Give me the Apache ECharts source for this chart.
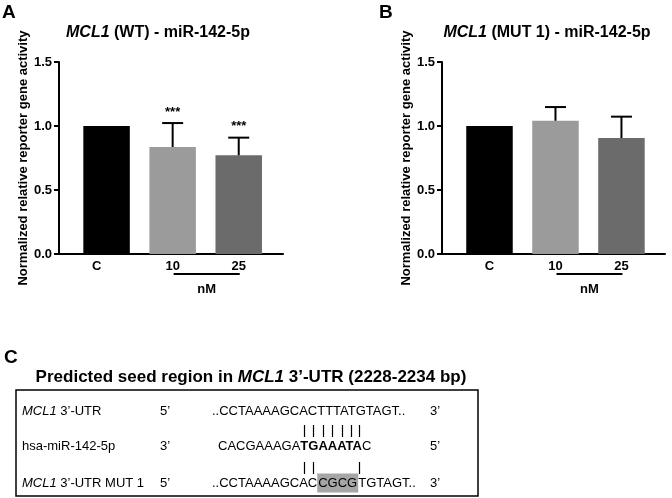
<!DOCTYPE html>
<html><head><meta charset="utf-8">
<script src="https://cdn.jsdelivr.net/npm/echarts@6/dist/echarts.min.js"></script>
<style>html,body{margin:0;padding:0;background:#fff}#c{width:672px;height:498px}</style>
</head><body><div id="c"></div>
<script>
// ---------- data ----------
const categories = ['C', '10', '25'];
const wtMeans = [1.0, 0.836, 0.771];
const wtErrors = [0, 0.187, 0.138];
const wtSig = ['', '***', '***'];
const mutMeans = [1.0, 1.041, 0.906];
const mutErrors = [0, 0.107, 0.167];
const mutSig = ['', '', ''];
const yTickValues = [0, 0.5, 1.0, 1.5];
const unitLabel = 'nM';
const yAxisTitle = 'Normalized relative reporter gene activity';
const titleA = ['MCL1', ' (WT) - miR-142-5p'];
const titleB = ['MCL1', ' (MUT 1) - miR-142-5p'];
const panelCTitle = ['Predicted seed region in ', 'MCL1', ' 3\u2019-UTR (2228-2234 bp)'];
const rowNames = [['MCL1', ' 3\u2019-UTR'], ['', 'hsa-miR-142-5p'], ['MCL1', ' 3\u2019-UTR MUT 1']];
const leftEnds = ['5\u2019', '3\u2019', '5\u2019'];
const rightEnds = ['3\u2019', '5\u2019', '3\u2019'];
const utrSeq = '..CCTAAAAGCACTTTATGTAGT..';
const mirPrefix = 'CACGAAAGA', mirSeed = 'TGAAATA', mirSuffix = 'C';
const mutPrefix = '..CCTAAAAGCAC', mutSite = 'CGCG', mutSuffix = 'TGTAGT..';
const pairsTop = [9, 10, 11, 12, 13, 14, 15];   // indices in miR string paired with WT UTR
const pairsMut = [9, 10, 15];                   // indices paired with MUT 1 UTR

// ---------- style ----------
const FONT = "'Liberation Sans', Arial, Helvetica, sans-serif";
const barColors = ['#000000', '#9b9b9b', '#6b6b6b'];

const chart = echarts.init(document.getElementById('c'), null, {renderer: 'canvas'});

function tok(size, weight, style, extra) {
  return Object.assign({fontSize: size, fontWeight: weight, fontStyle: style || 'normal', fontFamily: FONT, color: '#000'}, extra || {});
}

function panel(idx, left, width, minX, maxX, means, errors, sig, cShift) {
  const grid = {left: left, top: 62, width: width, height: 192, containLabel: false, outerBoundsMode: 'none'};
  const xAxis = {
    gridIndex: idx, type: 'value', min: minX, max: maxX,
    axisLine: {show: true, onZero: false, lineStyle: {color: '#000', width: 2}},
    axisTick: {show: false}, splitLine: {show: false},
    axisLabel: {
      customValues: [0, 1, 2], margin: 6, color: '#000',
      fontSize: 13, fontWeight: 'bold', fontFamily: FONT,
      formatter: v => {
        const i = Math.round(v);
        return (i === 0 && cShift) ? '{s|' + categories[i] + '}' : '{n|' + categories[i] + '}';
      },
      rich: {
        n: tok(13, 'bold'),
        s: tok(13, 'bold', 'normal', {padding: [0, cShift || 0, 0, 0]})
      }
    }
  };
  const yAxis = {
    gridIndex: idx, type: 'value', min: yTickValues[0], max: yTickValues[yTickValues.length - 1],
    interval: yTickValues[1] - yTickValues[0],
    name: yAxisTitle, nameLocation: 'middle', nameRotate: 90, nameGap: 29,
    nameTextStyle: {fontSize: 13, fontWeight: 'bold', fontFamily: FONT, color: '#000'},
    axisLine: {show: true, onZero: false, lineStyle: {color: '#000', width: 2}},
    axisTick: {show: true, length: 5, lineStyle: {color: '#000', width: 2}},
    splitLine: {show: false},
    axisLabel: {formatter: v => v.toFixed(1), fontSize: 13, fontWeight: 'bold', fontFamily: FONT, color: '#000', margin: 7}
  };
  const bars = {
    type: 'bar', xAxisIndex: idx, yAxisIndex: idx, barWidth: 46.5, z: 2,
    data: means.map((m, i) => ({value: [i, m], itemStyle: {color: barColors[i]}}))
  };
  const errData = [];
  means.forEach((m, i) => { if (errors[i] > 0) errData.push([i, m, errors[i]]); });
  const err = {
    type: 'custom', xAxisIndex: idx, yAxisIndex: idx, z: 5, clip: false,
    encode: {x: 0, y: 1},
    data: errData,
    renderItem: (params, api) => {
      const x = api.value(0), m = api.value(1), e = api.value(2);
      const p0 = api.coord([x, m]), p1 = api.coord([x, m + e]);
      const children = [
        {type: 'line', shape: {x1: p0[0], y1: p0[1], x2: p1[0], y2: p1[1]}, style: {stroke: '#000', lineWidth: 2}},
        {type: 'line', shape: {x1: p1[0] - 10.5, y1: p1[1], x2: p1[0] + 10.5, y2: p1[1]}, style: {stroke: '#000', lineWidth: 2}}
      ];
      const s = sig[Math.round(x)];
      if (s) {
        children.push({type: 'text', x: p1[0], y: p1[1] - 11, style: {text: s, fill: '#000', font: 'bold 13px ' + FONT, align: 'center', verticalAlign: 'middle'}});
      }
      return {type: 'group', children: children};
    }
  };
  return {grid, xAxis, yAxis, series: [bars, err]};
}

const pA = panel(0, 59, 224, -0.72, 2.67, wtMeans, wtErrors, wtSig, 20);
const pB = panel(1, 442, 223, -0.72, 2.66, mutMeans, mutErrors, mutSig, 0);

// text helpers
const mctx = document.createElement('canvas').getContext('2d');
function tw(t, weight, size) { mctx.font = weight + ' ' + size + 'px ' + FONT; return mctx.measureText(t).width; }

function richText(x, y, text, rich, align) {
  return {type: 'text', x: x, y: y, silent: true,
    style: {text: text, rich: rich, align: align || 'left', verticalAlign: 'middle', font: '13px ' + FONT, fill: '#000'}};
}

const titleRich = {i: tok(16, 'bold', 'italic'), b: tok(16, 'bold')};
const cTitleRich = {i: tok(17, 'bold', 'italic'), b: tok(17, 'bold')};
const rowRich = {
  i: tok(13, 'normal', 'italic'), r: tok(13, 'normal'), b: tok(13, 'bold'),
  h: tok(13, 'normal', 'normal', {backgroundColor: '#a6a6a6', padding: [3, 1, 3, 1]})
};

const rowY = [411, 446, 483];
const seqX = 212, mirX = 218;

const graphics = [
  richText(2, 13, '{b|A}', {b: tok(19, 'bold')}),
  richText(379, 13, '{b|B}', {b: tok(19, 'bold')}),
  richText(4, 358, '{b|C}', {b: tok(19, 'bold')}),
  richText(158, 33, '{i|' + titleA[0] + '}{b|' + titleA[1] + '}', titleRich, 'center'),
  richText(547, 33, '{i|' + titleB[0] + '}{b|' + titleB[1] + '}', titleRich, 'center'),
  richText(251, 377, '{b|' + panelCTitle[0] + '}{i|' + panelCTitle[1] + '}{b|' + panelCTitle[2] + '}', cTitleRich, 'center'),
  {type: 'rect', shape: {x: 16, y: 390, width: 462, height: 106}, style: {fill: 'none', stroke: '#000', lineWidth: 1.5}, silent: true}
];
rowNames.forEach((n, k) => {
  graphics.push(richText(22, rowY[k], (n[0] ? '{i|' + n[0] + '}' : '') + '{r|' + n[1] + '}', rowRich));
  graphics.push(richText(160, rowY[k], '{r|' + leftEnds[k] + '}', rowRich));
  graphics.push(richText(430, rowY[k], '{r|' + rightEnds[k] + '}', rowRich));
});
graphics.push(richText(seqX, rowY[0], '{r|' + utrSeq + '}', rowRich));
graphics.push(richText(mirX, rowY[1], '{r|' + mirPrefix + '}{b|' + mirSeed + '}{r|' + mirSuffix + '}', rowRich));
graphics.push(richText(seqX, rowY[2], '{r|' + mutPrefix + '}{h|' + mutSite + '}{r|' + mutSuffix + '}', rowRich));

// pipe positions from miR letter centres
const mirFull = mirPrefix + mirSeed + mirSuffix;
function mirWeight(i) { return (i >= mirPrefix.length && i < mirPrefix.length + mirSeed.length) ? 'bold' : 'normal'; }
function mirCharCenter(i) {
  let x = mirX;
  for (let k = 0; k < i; k++) x += tw(mirFull[k], mirWeight(k), 13);
  return x + tw(mirFull[i], mirWeight(i), 13) / 2;
}
pairsTop.forEach(i => {
  const x = Math.round(mirCharCenter(i)) + 0.5;
  graphics.push({type: 'line', shape: {x1: x, y1: 425, x2: x, y2: 437}, style: {stroke: '#000', lineWidth: 1.2}, silent: true});
});
pairsMut.forEach(i => {
  const x = Math.round(mirCharCenter(i)) + 0.5;
  graphics.push({type: 'line', shape: {x1: x, y1: 462, x2: x, y2: 474}, style: {stroke: '#000', lineWidth: 1.2}, silent: true});
});

chart.setOption({
  animation: false,
  backgroundColor: '#fff',
  textStyle: {fontFamily: FONT},
  grid: [pA.grid, pB.grid],
  xAxis: [pA.xAxis, pB.xAxis],
  yAxis: [pA.yAxis, pB.yAxis],
  series: pA.series.concat(pB.series),
  graphic: graphics
});

// "nM" bracket under the 10 and 25 bars, positioned with the chart's own scales
[0, 1].forEach(g => {
  const a = chart.convertToPixel({gridIndex: g}, [1, 0]);
  const b = chart.convertToPixel({gridIndex: g}, [2, 0]);
  graphics.push({type: 'line', shape: {x1: a[0] + 1, y1: a[1] + 20, x2: b[0] + 1, y2: b[1] + 20}, style: {stroke: '#000', lineWidth: 1.8}, silent: true});
  graphics.push(richText((a[0] + b[0]) / 2 + 1, a[1] + 35, '{b|' + unitLabel + '}', {b: tok(13, 'bold')}, 'center'));
});
chart.setOption({graphic: graphics});
</script>
</body></html>
